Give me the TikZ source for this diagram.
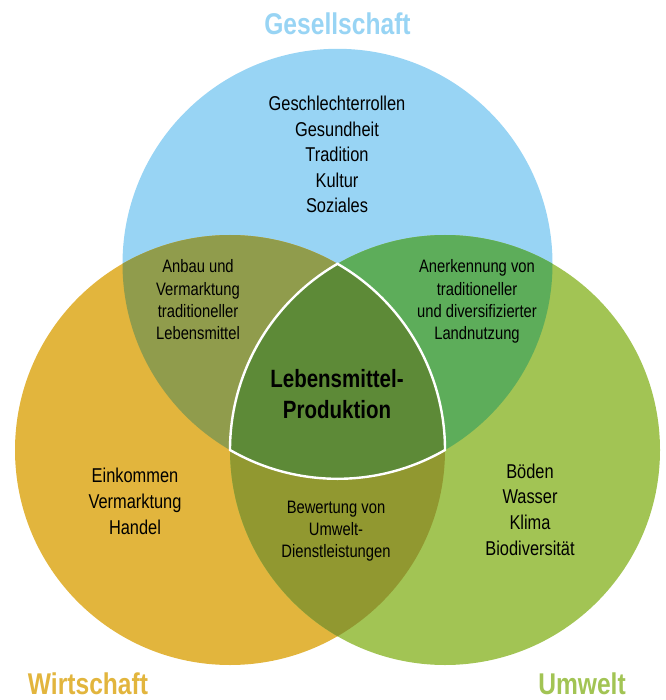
\documentclass[tikz,border=0pt]{standalone}
\usepackage{fontspec}
\setmainfont[FakeStretch=0.82]{Liberation Sans}
\definecolor{society}{RGB}{152,212,244}
\definecolor{economy}{RGB}{226,181,61}
\definecolor{ecology}{RGB}{162,196,84}
\definecolor{socecon}{RGB}{144,156,76}
\definecolor{socecol}{RGB}{93,173,90}
\definecolor{econecol}{RGB}{145,152,48}
\definecolor{food}{RGB}{93,138,55}

\begin{document}
\begin{tikzpicture}[x=1pt,y=-1pt,
    title/.style={font=\fontsize{30}{36}\selectfont\bfseries,anchor=base,inner sep=0},
    item/.style={font=\fontsize{20}{24}\selectfont,anchor=base,inner sep=0},
    small/.style={font=\fontsize{18}{22}\selectfont,anchor=base,inner sep=0},
    core/.style={font=\fontsize{25}{30}\selectfont\bfseries,anchor=base,inner sep=0}]
  \useasboundingbox (0,0) rectangle (665,700);
  % centres of the three circles
  \coordinate (T) at (337.5,263.8);
  \coordinate (L) at (230,450);
  \coordinate (R) at (445,450);
  \def\rad{215pt}
  \fill[society] (T) circle[radius=\rad];
  \fill[economy] (L) circle[radius=\rad];
  \fill[ecology] (R) circle[radius=\rad];
  \begin{scope}
    \clip (T) circle[radius=\rad];
    \fill[socecon] (L) circle[radius=\rad];
    \fill[socecol] (R) circle[radius=\rad];
  \end{scope}
  \begin{scope}
    \clip (L) circle[radius=\rad];
    \fill[econecol] (R) circle[radius=\rad];
  \end{scope}
  % common part of all three
  \draw[white,line width=2.4pt,fill=food] (R)
    arc[start angle=0,end angle=60,radius=\rad]
    arc[start angle=120,end angle=180,radius=\rad]
    arc[start angle=240,end angle=300,radius=\rad] -- cycle;

  \node[title,society] (soc) at (337.5,35) {Gesellschaft};
  \node[title,economy] (eco) at (88,694) {Wirtschaft};
  \node[title,ecology] (env) at (582,694) {Umwelt};

  \foreach \t [count=\i] in {Geschlechterrollen,Gesundheit,Tradition,Kultur,Soziales}
    \node[item] (soc\i) at (337,{111+25.35*(\i-1)}) {\t};
  \foreach \t [count=\i] in {Einkommen,Vermarktung,Handel}
    \node[item] (eco\i) at (135,{482.7+26*(\i-1)}) {\t};
  \foreach \t [count=\i] in {Böden,Wasser,Klima,Biodiversität}
    \node[item] (env\i) at (530,{478.3+25.6*(\i-1)}) {\t};

  \foreach \t [count=\i] in {Anbau und,Vermarktung,traditioneller,Lebensmittel}
    \node[small] (trad\i) at (198,{272.7+22.4*(\i-1)}) {\t};
  \foreach \t [count=\i] in {Anerkennung von,traditioneller,und diversifizierter,Landnutzung}
    \node[small] (land\i) at (477,{272.7+22.4*(\i-1)}) {\t};
  \foreach \t [count=\i] in {Bewertung von,Umwelt-,Dienstleistungen}
    \node[small] (serv\i) at (336,{513.3+22*(\i-1)}) {\t};

  \node[core] (prod1) at (337,387) {Lebensmittel-};
  \node[core] (prod2) at (337,418.5) {Produktion};
\end{tikzpicture}
\end{document}
